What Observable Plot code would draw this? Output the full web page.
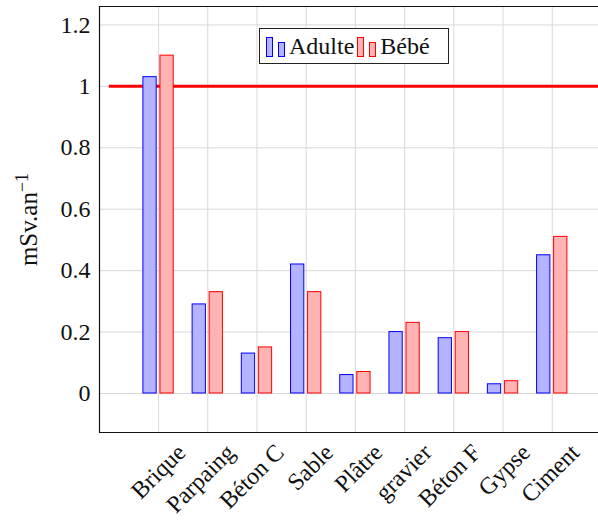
<!DOCTYPE html>
<html>
<head>
<meta charset="utf-8">
<script src="https://cdn.jsdelivr.net/npm/d3@7"></script>
<script src="https://cdn.jsdelivr.net/npm/@observablehq/plot@0.6"></script>
<style>
  html, body { margin: 0; padding: 0; background: white; }
  #wrap { position: relative; width: 598px; height: 520px; font-family: "Liberation Serif", "DejaVu Serif", serif; }
  #legend { position: absolute; left: 259px; top: 28px; width: 190px; height: 36px; border: 1.2px solid #222;
            background: white; display: flex; align-items: center; padding-left: 6px; box-sizing: border-box; }
  .item { display: flex; align-items: center; margin-right: 3px; }
  .sw { display: flex; align-items: flex-end; height: 22px; margin-right: 4px; }
  .sw span { display: inline-block; width: 5px; box-sizing: content-box; margin-right: 5px; }
  .sw span.tall { height: 18px; }
  .sw span.short { height: 13px; margin-right: 0; }
  .lab { font-size: 24px; line-height: 24px; color: #111; }
</style>
</head>
<body>
<div id="wrap"></div>
<script>
const categories = ["Brique", "Parpaing", "Béton C", "Sable", "Plâtre", "gravier", "Béton F", "Gypse", "Ciment"];
const adulte = [1.03, 0.29, 0.13, 0.42, 0.06, 0.20, 0.18, 0.03, 0.45];
const bebe   = [1.10, 0.33, 0.15, 0.33, 0.07, 0.23, 0.20, 0.04, 0.51];
const seriesNames = ["Adulte", "Bébé"];
const yTicks = [0, 0.2, 0.4, 0.6, 0.8, 1, 1.2];
const limitValue = [1];
const yLabel = "mSv.an";

const seriesStyle = {
  "Adulte": {fill: "#b3b3ff", stroke: "#0000ff", offset: -0.173},
  "Bébé":   {fill: "#ffb3b3", stroke: "#ff0000", offset: 0.173}
};
const halfW = 0.135;
const xDomain = [-1.2, 8.94];
const yDomain = [-0.127, 1.26];
const idx = categories.map((c, i) => i);

const rows = [];
categories.forEach((c, i) => {
  rows.push({i, s: seriesNames[0], v: adulte[i]});
  rows.push({i, s: seriesNames[1], v: bebe[i]});
});

const grid = "#d9d9d9";
const FF = "'Liberation Serif', 'DejaVu Serif', serif";
const chart = Plot.plot({
  width: 598, height: 520,
  marginLeft: 99, marginRight: 0, marginTop: 6, marginBottom: 88,
  style: {fontFamily: FF, fontSize: "24px", background: "white", color: "#111", overflow: "visible"},
  x: {domain: xDomain, axis: null},
  y: {domain: yDomain, axis: null},
  marks: [
    Plot.ruleX(idx, {stroke: grid, strokeWidth: 1}),
    Plot.ruleY(yTicks, {stroke: grid, strokeWidth: 1}),
    Plot.ruleY(limitValue, {x1: -1, x2: xDomain[1], stroke: "#ff0000", strokeWidth: 3}),
    Plot.rect(rows, {
      x1: d => d.i + seriesStyle[d.s].offset - halfW,
      x2: d => d.i + seriesStyle[d.s].offset + halfW,
      y1: 0, y2: "v",
      fill: d => seriesStyle[d.s].fill,
      stroke: d => seriesStyle[d.s].stroke,
      strokeWidth: 1
    }),
    Plot.text(yTicks, {x: xDomain[0], y: d => d, text: d => String(d), textAnchor: "end", dx: -9, fontSize: 24, fontFamily: FF}),
    Plot.text(categories, {x: (d, i) => i, frameAnchor: "bottom", text: d => d, rotate: -45,
      textAnchor: "end", lineAnchor: "middle", dx: 23, dy: 16, fontSize: 24, fontFamily: FF}),
    Plot.text([yLabel], {frameAnchor: "left", text: d => d, rotate: -90, textAnchor: "middle", dx: -71,
      fontSize: 25, fontFamily: FF, className: "ylab"}),
    Plot.ruleX([xDomain[0]], {stroke: "#111", strokeWidth: 1.2}),
    Plot.ruleY([yDomain[0], yDomain[1]], {stroke: "#111", strokeWidth: 1.2})
  ]
});

const wrap = document.getElementById("wrap");
wrap.appendChild(chart);

// superscript on the y label
const yl = d3.select(chart).select(".ylab text");
if (!yl.empty()) {
  yl.append("tspan").attr("dy", "-0.5em").attr("font-size", "18px").text("−1");
}

// legend
const legend = document.createElement("div");
legend.id = "legend";
seriesNames.forEach(name => {
  const st = seriesStyle[name];
  const item = document.createElement("div");
  item.className = "item";
  const sw = document.createElement("div");
  sw.className = "sw";
  ["tall", "short"].forEach(k => {
    const s = document.createElement("span");
    s.className = k;
    s.style.background = st.fill;
    s.style.border = "1px solid " + st.stroke;
    sw.appendChild(s);
  });
  const lab = document.createElement("span");
  lab.className = "lab";
  lab.textContent = name;
  item.appendChild(sw);
  item.appendChild(lab);
  legend.appendChild(item);
});
wrap.appendChild(legend);
</script>
</body>
</html>
